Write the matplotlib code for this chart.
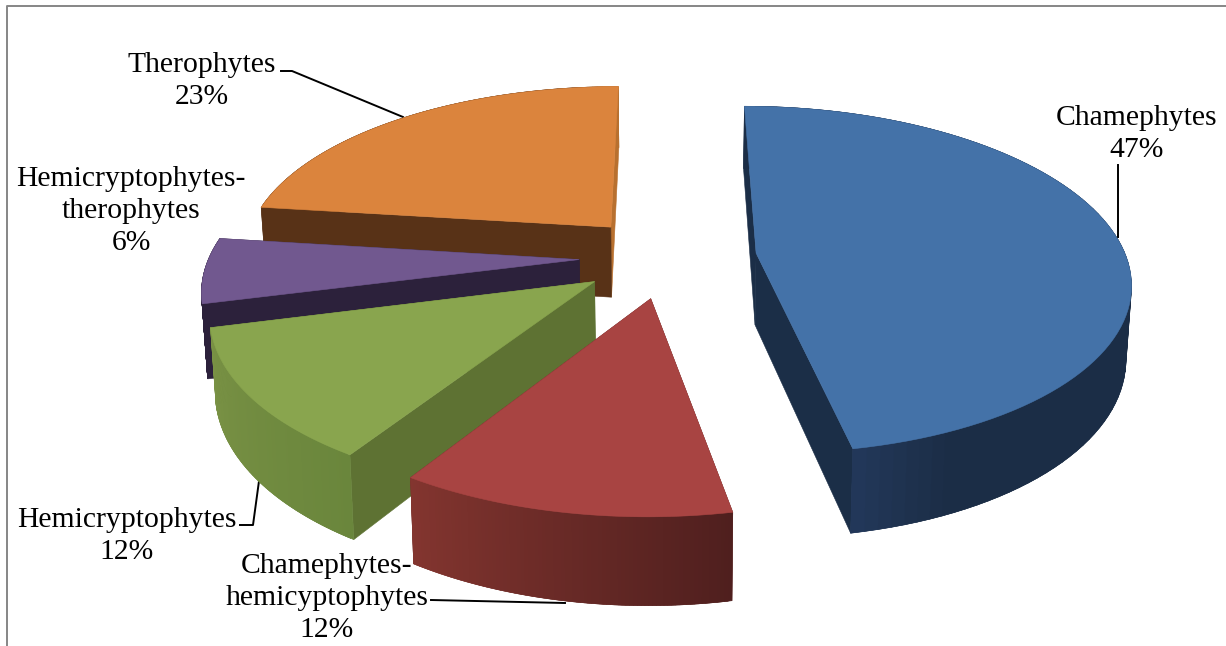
"""Exploded 3D style pie of life forms, drawn as projected polygons."""
import numpy as np
import matplotlib
matplotlib.use('Agg')
import matplotlib.pyplot as plt
import matplotlib.colors as mcolors

categories = ['Chamephytes', 'Chamephytes-\nhemicyptophytes', 'Hemicryptophytes',
              'Hemicryptophytes-\ntherophytes', 'Therophytes']
values = [47, 12, 12, 6, 23]

top_colors = ['#4472a8', '#a84442', '#89a54e', '#71588f', '#db843d']
wall_colors = ['#1b2e47', '#5e2524', '#5e7233', '#2c213b', '#583217']
end_wall_colors = ['#1b2e47', '#5e2524', '#5e7233', '#2c213b', '#b8702f']
# outer wall shading going clockwise through each slice: (fraction, colour)
wall_stops = [
    [(0, '#1b2d46'), (0.92, '#1b2d46'), (1, '#22385a')],
    [(0, '#4f1f1e'), (1, '#83352f')],
    [(0, '#6a863c'), (1, '#7a9245')],
    [(0, '#2c213b'), (1, '#2c213b')],
    [(0, '#583217'), (0.9, '#583217'), (0.97, '#b8702f'), (1, '#b8702f')],
]
draw_order = [4, 3, 2, 1, 0]

# pie geometry in picture pixels
CX, CY = 668, 257
RX, RY = 370, 170.5
PERSP = 0.153
EXPLODE = 0.24
DEPTH = 72
SHRINK = 0.988

label_pos = [(1137, 134), (327, 598), (127, 536), (131, 211), (202, 81)]
leaders = [
    [(1118, 165), (1118, 237)],
    [(431, 600), (565, 603)],
    [(240, 525), (253, 525), (259, 481)],
    [],
    [(281, 71), (292, 71), (403, 117)],
]


def project(u, v):
    s = 1 / (1 + PERSP * v)
    return CX + RX * u * s, CY - RY * v * s, s


def lower(x, y, s):
    return CX + (x - CX) * SHRINK, y + DEPTH * s


def fill(ax, xs, ys, color):
    ax.fill(xs, ys, facecolor=color, edgecolor=color, linewidth=0.4, zorder=3)


def draw_slice(ax, start, end, top, wall, end_wall, stops):
    mid = np.radians((start + end) / 2)
    off_u, off_v = EXPLODE * np.sin(mid), EXPLODE * np.cos(mid)
    theta = np.radians(np.linspace(start, end, 90))
    ax_x, ax_y, ax_s = project(off_u, off_v)
    arc_x, arc_y, arc_s = project(off_u + np.sin(theta), off_v + np.cos(theta))
    low_x, low_y = lower(arc_x, arc_y, arc_s)
    apex_lx, apex_ly = lower(ax_x, ax_y, ax_s)

    # radial walls, the clockwise end first so the start wall lies over it
    fill(ax, [ax_x, arc_x[-1], low_x[-1], apex_lx], [ax_y, arc_y[-1], low_y[-1], apex_ly],
         end_wall)
    fill(ax, [ax_x, arc_x[0], low_x[0], apex_lx], [ax_y, arc_y[0], low_y[0], apex_ly], wall)

    # outer wall in overlapping strips for the shading
    rgb = np.array([mcolors.to_rgb(c) for _, c in stops])
    fr = [f for f, _ in stops]
    n = len(theta)
    for i in range(n - 1):
        t = (i + 0.5) / (n - 1)
        col = [np.interp(t, fr, rgb[:, k]) for k in range(3)]
        j = min(i + 2, n - 1)
        fill(ax, [arc_x[i], arc_x[j], low_x[j], low_x[i]],
             [arc_y[i], arc_y[j], low_y[j], low_y[i]], col)

    # top face
    fill(ax, np.r_[ax_x, arc_x], np.r_[ax_y, arc_y], top)


fig = plt.figure(figsize=(12.26, 6.46), dpi=100)
ax = fig.add_axes([0, 0, 1, 1])
ax.set_xlim(0, 1226)
ax.set_ylim(646, 0)
ax.axis('off')

# chart frame, cropped at right and bottom
ax.plot([7, 7, 1226], [646, 6, 6], color='#868686', linewidth=1.4, zorder=1)

edges = np.r_[0, np.cumsum(values)] / sum(values) * 360
for i in draw_order:
    draw_slice(ax, edges[i], edges[i + 1], top_colors[i], wall_colors[i],
               end_wall_colors[i], wall_stops[i])

for name, val, pos, line in zip(categories, values, label_pos, leaders):
    ax.text(pos[0], pos[1], f'{name}\n{val}%', ha='center', va='center', color='black',
            family='Liberation Serif', fontsize=21.3, linespacing=1.29, zorder=5)
    if line:
        ax.plot(*zip(*line), color='black', linewidth=1.4, zorder=2)

plt.savefig('out.png', dpi=100)
plt.close(fig)
